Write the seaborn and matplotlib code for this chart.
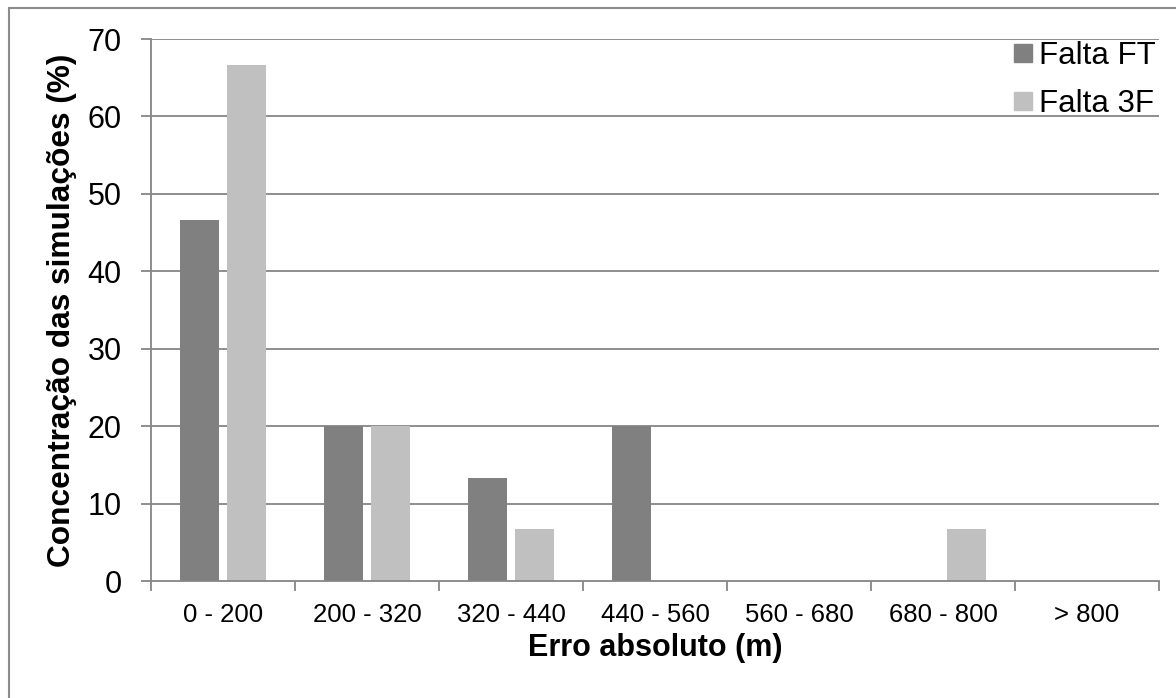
import matplotlib
matplotlib.use("Agg")
import matplotlib.pyplot as plt
import matplotlib.patches as mpatches
from matplotlib.lines import Line2D
import seaborn as sns
import pandas as pd
import numpy as np

categories = ["0 - 200", "200 - 320", "320 - 440", "440 - 560", "560 - 680", "680 - 800", "> 800"]
falta_ft = [46.67, 20.0, 13.33, 20.0, 0.0, 0.0, 0.0]
falta_3f = [66.67, 20.0, 6.67, 0.0, 0.0, 6.67, 0.0]
series_names = ["Falta FT", "Falta 3F"]
series_colors = ["#808080", "#C0C0C0"]
y_ticks = [0, 10, 20, 30, 40, 50, 60, 70]

sns.set_theme(style="white")
plt.rcParams["font.family"] = ["Liberation Sans", "DejaVu Sans"]
plt.rcParams["text.color"] = "black"
plt.rcParams["axes.labelcolor"] = "black"
plt.rcParams["xtick.color"] = "black"
plt.rcParams["ytick.color"] = "black"

df = pd.DataFrame({
    "Faixa": categories * 2,
    "Valor": falta_ft + falta_3f,
    "Série": [series_names[0]] * len(categories) + [series_names[1]] * len(categories),
})

fig = plt.figure(figsize=(11.76, 6.98), dpi=100)
ax = fig.add_axes([0.1284, 0.1676, 0.8571, 0.7765])

grid_color = "#868686"
for y in y_ticks[1:]:
    ax.axhline(y, color=grid_color, lw=1.3, zorder=0)

sns.barplot(data=df, x="Faixa", y="Valor", hue="Série", order=categories,
            hue_order=series_names, palette=series_colors, width=0.653, gap=0.185,
            saturation=1, edgecolor="none", linewidth=0, ax=ax, legend=False, zorder=2)

ax.set_ylim(0, 70)
ax.set_xlim(-0.5, len(categories) - 0.5)
ax.set_yticks(y_ticks)
ax.set_yticklabels([str(v) for v in y_ticks], fontsize=22)
ax.set_xticks(range(len(categories)))
ax.set_xticklabels(categories, fontsize=18.5)
ax.set_xticks(np.arange(-0.5, len(categories), 1.0), minor=True)
ax.tick_params(axis="x", which="major", bottom=False, length=0, pad=16)
ax.tick_params(axis="x", which="minor", bottom=True, length=7, width=1.3,
               color=grid_color, direction="out")
ax.tick_params(axis="y", which="major", left=True, length=7, width=1.3,
               color=grid_color, labelcolor="black", direction="out", pad=14)

for side in ["top", "right"]:
    ax.spines[side].set_visible(False)
for side in ["left", "bottom"]:
    ax.spines[side].set_color(grid_color)
    ax.spines[side].set_linewidth(1.3)

ax.set_xlabel("Erro absoluto (m)", fontsize=22, fontweight="bold", labelpad=4)
ax.set_ylabel("Concentração das simulações (%)", fontsize=22.8, fontweight="bold", labelpad=8)

handles = [Line2D([0], [0], marker="s", linestyle="none", markersize=13,
                  markerfacecolor=c, markeredgecolor=c) for c in series_colors]
ax.legend(handles, series_names, loc="upper right", bbox_to_anchor=(1.009, 1.02),
          frameon=False, fontsize=22.5, handletextpad=0.0, labelspacing=0.58,
          handlelength=1.0, borderaxespad=0)

# chart-area frame
frame = mpatches.Rectangle((9 / 1176, -0.05), 1.2, 1 - 8 / 698 + 0.05,
                           transform=fig.transFigure, fill=False,
                           edgecolor="#8c8c8c", linewidth=1.5, clip_on=False)
fig.patches.append(frame)

fig.savefig("out.png", dpi=100)
